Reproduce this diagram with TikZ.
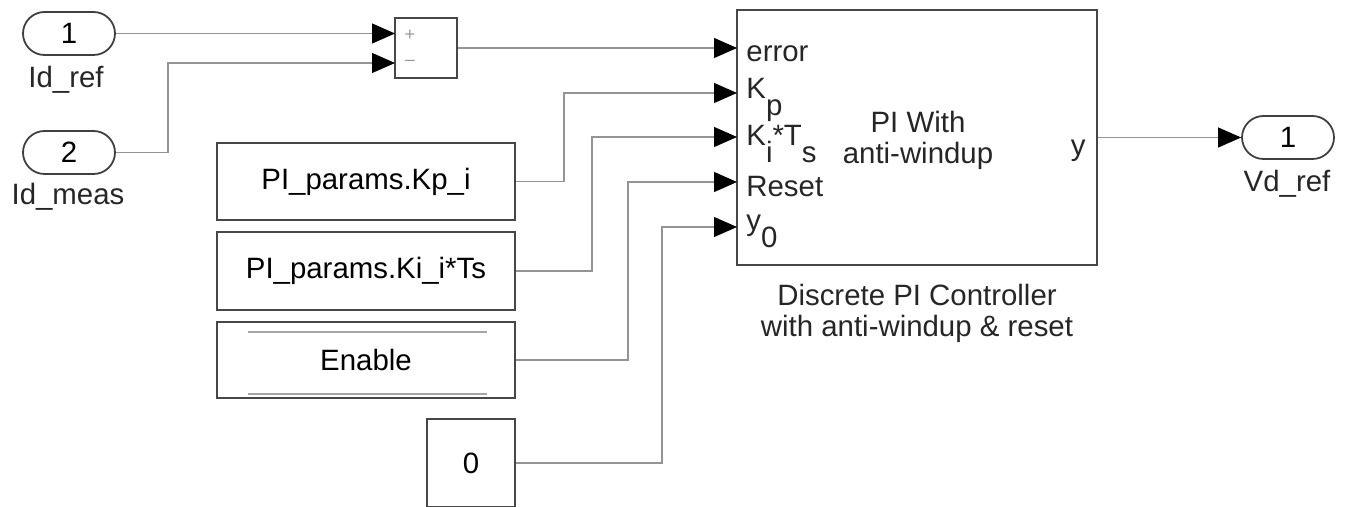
\documentclass[tikz,border=0pt]{standalone}
\usepackage{fontspec}
\setmainfont{Liberation Sans}
\usetikzlibrary{arrows.meta,positioning}

\newcommand{\sbs}[1]{\raisebox{-0.56em}{#1}}

\begin{document}
\begin{tikzpicture}[x=0.5pt,y=-0.5pt,
  blk/.style={rectangle,draw=black!72,line width=1pt,fill=white,
              font=\fontsize{14.7}{16}\selectfont,inner sep=0pt},
  inport/.style={rectangle,rounded corners=10.75pt,draw=black!75,line width=0.9pt,
                 minimum width=46pt,minimum height=21.5pt,inner sep=0pt,
                 font=\fontsize{14.7}{16}\selectfont},
  txt/.style={inner sep=0pt,font=\fontsize{14.7}{15.5}\selectfont,text=black!85},
  plbl/.style={txt,anchor=base west},
  sgn/.style={inner sep=0pt,font=\fontsize{9}{10}\selectfont,text=black!40},
  wire/.style={draw=black!42,line width=0.6pt,
               -{Triangle[length=11.5pt,width=10pt,color=black]}}
]
\useasboundingbox (0,0) rectangle (1346,507);

% inports
\node[inport] (in1) at (69,33.5) {1};
\node[txt,anchor=base] (in1lbl) at (66,88) {Id\_ref};
\node[inport] (in2) at (69,152.5) {2};
\node[txt,anchor=base] (in2lbl) at (68,205) {Id\_meas};

% sum
\node[blk,minimum width=31pt,minimum height=30pt] (sum) at (426,48) {};
\coordinate (sa) at (395,33.5);
\coordinate (sb) at (395,63);
\node[sgn] (plus) at (410,35) {+};
\node[sgn] (minus) at (410,63) {--};

% constants
\node[blk,minimum width=149pt,minimum height=38.5pt] (kp) at (366,181.5) {PI\_params.Kp\_i};
\node[blk,minimum width=149pt,minimum height=39pt] (ki) at (366,271) {PI\_params.Ki\_i*Ts};
\node[blk,minimum width=149pt,minimum height=38pt] (en) at (366,360) {Enable};
\draw[black!35,line width=0.6pt] (248,332) -- (487,332);
\draw[black!35,line width=0.6pt] (248,394) -- (487,394);
\node[blk,minimum width=44pt,minimum height=44pt] (zero) at (471,463) {0};

% PI controller
\node[blk,minimum width=180pt,minimum height=127.5pt] (pi) at (917,137.5) {};
\coordinate (pe) at (737,48);
\coordinate (pkp) at (737,93);
\coordinate (pki) at (737,137);
\coordinate (prs) at (737,182);
\coordinate (py0) at (737,227);
\node[plbl] (lerr) at (746,62) {error};
\node[plbl] (lkp) at (746,99) {K\sbs{p}};
\node[plbl] (lki) at (746,146) {K\sbs{i}*T\sbs{s}};
\node[plbl] (lrs) at (746,197) {Reset};
\node[plbl] (ly0) at (746,231) {y\sbs{0}};
\node[txt,align=center] (pitxt) at (918,140) {PI With\\anti-windup};
\node[txt,anchor=base east] (ly) at (1086,156) {y};
\node[txt,align=center] (picap) at (917,313) {Discrete PI Controller\\with anti-windup \& reset};

% outport
\node[inport] (vd) at (1288,137.5) {1};
\node[txt,anchor=base] (vdlbl) at (1287,192) {Vd\_ref};

% wires
\draw[wire] (in1.east) -- (sa);
\draw[wire] (in2.east) -- ++(52,0) |- (sb);
\draw[wire] (sum.east) -- (pe);
\draw[wire] (kp.east) -- ++(48,0) |- (pkp);
\draw[wire] (ki.east) -- ++(76,0) |- (pki);
\draw[wire] (en.east) -- ++(112,0) |- (prs);
\draw[wire] (zero.east) -- ++(146,0) |- (py0);
\draw[wire] (pi.east) -- (vd.west);
\end{tikzpicture}
\end{document}
